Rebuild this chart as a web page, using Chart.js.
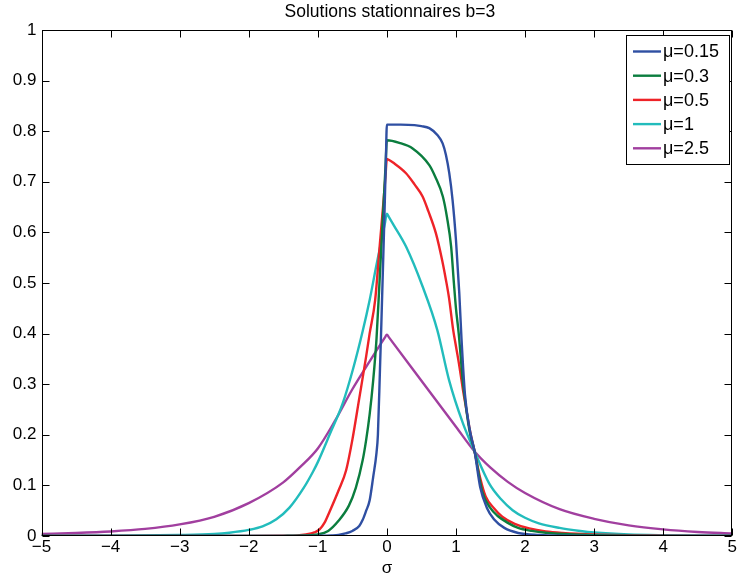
<!DOCTYPE html>
<html>
<head>
<meta charset="utf-8">
<script src="https://cdn.jsdelivr.net/npm/chart.js@4.4.1/dist/chart.umd.min.js"></script>
<style>
  html, body { margin: 0; padding: 0; background: #fff; }
  canvas { display: block; }
</style>
</head>
<body>
<canvas id="c" width="738" height="581"></canvas>
<script>
// ---- Data ----
const chartTitle = 'Solutions stationnaires b=3';
const xAxisLabel = 'σ';
const seriesLabels = ['μ=0.15', 'μ=0.3', 'μ=0.5', 'μ=1', 'μ=2.5'];
const seriesColors = ['#2f4fa2', '#0b7d3e', '#ee2328', '#22bcbc', '#a13f9f'];

const sigmaMu015 = [-5, -2, -1.2, -1, -0.8, -0.7, -0.6, -0.5, -0.4, -0.35, -0.3, -0.25, -0.2, -0.15, -0.13, -0.1, -0.08, -0.04, -0.015, 0, 0.2, 0.4, 0.5, 0.614, 0.734, 0.807, 0.855, 0.903, 0.951, 1.0, 1.048, 1.08, 1.13, 1.2, 1.27, 1.35, 1.45, 1.55, 1.7, 1.9, 2.2, 2.6, 3, 5];
const densMu015  = [0, 0, 0.0001, 0.0003, 0.001, 0.002, 0.005, 0.01, 0.02, 0.032, 0.05, 0.07, 0.115, 0.165, 0.2, 0.33, 0.42, 0.61, 0.74, 0.813, 0.813, 0.812, 0.81, 0.806, 0.792, 0.776, 0.753, 0.717, 0.664, 0.585, 0.48, 0.39, 0.28, 0.21, 0.167, 0.097, 0.055, 0.033, 0.016, 0.006, 0.002, 0.0005, 0.0002, 0];

const sigmaMu03 = [-5, -2, -1.5, -1.2, -1, -0.85, -0.7, -0.55, -0.45, -0.35, -0.3, -0.25, -0.2, -0.15, -0.1, -0.05, -0.02, 0, 0.18, 0.373, 0.614, 0.7, 0.81, 0.87, 0.93, 0.97, 1.0, 1.04, 1.1, 1.15, 1.2, 1.27, 1.38, 1.5, 1.6, 1.75, 1.9, 2.1, 2.3, 2.7, 3.2, 4, 5];
const densMu03  = [0, 0.0001, 0.0003, 0.001, 0.003, 0.01, 0.03, 0.06, 0.095, 0.15, 0.19, 0.24, 0.305, 0.39, 0.52, 0.65, 0.73, 0.782, 0.777, 0.766, 0.733, 0.71, 0.671, 0.63, 0.572, 0.5, 0.45, 0.4, 0.305, 0.25, 0.205, 0.167, 0.088, 0.055, 0.04, 0.026, 0.016, 0.01, 0.0065, 0.003, 0.0012, 0.0003, 0.0001];

const sigmaMu05 = [-5, -2, -1.5, -1.3, -1.17, -1.05, -0.975, -0.9, -0.83, -0.7, -0.59, -0.5, -0.4, -0.3, -0.25, -0.17, -0.1, -0.05, -0.02, 0, 0.02, 0.1, 0.277, 0.4, 0.517, 0.6, 0.71, 0.8, 0.855, 0.9, 0.96, 1.0, 1.05, 1.1, 1.15, 1.2, 1.27, 1.35, 1.43, 1.55, 1.67, 1.85, 2.06, 2.3, 2.54, 3, 4, 5];
const densMu05  = [0, 0.0001, 0.0005, 0.001, 0.003, 0.007, 0.013, 0.027, 0.048, 0.09, 0.13, 0.19, 0.272, 0.355, 0.4, 0.466, 0.58, 0.66, 0.712, 0.745, 0.744, 0.737, 0.717, 0.695, 0.671, 0.642, 0.598, 0.545, 0.506, 0.47, 0.407, 0.375, 0.335, 0.29, 0.25, 0.21, 0.167, 0.115, 0.078, 0.055, 0.038, 0.024, 0.015, 0.009, 0.006, 0.003, 0.0008, 0.0002];

const sigmaMu1 = [-5, -4, -3, -2.5, -2.28, -2, -1.8, -1.6, -1.41, -1.2, -1.07, -1, -0.83, -0.64, -0.49, -0.35, -0.25, -0.156, -0.03, 0, 0.03, 0.1, 0.277, 0.517, 0.73, 0.9, 1.1, 1.27, 1.48, 1.65, 1.82, 2, 2.2, 2.5, 2.8, 3, 3.5, 4, 5];
const densMu1  = [0.0001, 0.0005, 0.002, 0.004, 0.0065, 0.012, 0.019, 0.033, 0.056, 0.096, 0.127, 0.146, 0.2, 0.262, 0.33, 0.405, 0.466, 0.532, 0.617, 0.637, 0.63, 0.614, 0.572, 0.493, 0.407, 0.308, 0.223, 0.167, 0.104, 0.073, 0.051, 0.036, 0.025, 0.016, 0.01, 0.007, 0.003, 0.0015, 0.0004];

const sigmaMu25 = [-5, -4.5, -4, -3.5, -3, -2.5, -2, -1.5, -1.25, -1, -0.75, -0.5, -0.25, -0.03, 0, 0.03, 0.5, 1.0, 1.27, 1.5, 1.75, 2, 2.5, 3, 3.5, 4, 4.5, 5];
const densMu25  = [0.004, 0.006, 0.009, 0.014, 0.023, 0.038, 0.065, 0.106, 0.137, 0.173, 0.228, 0.29, 0.345, 0.392, 0.398, 0.3925, 0.307, 0.216, 0.167, 0.135, 0.107, 0.085, 0.053, 0.034, 0.021, 0.013, 0.008, 0.005];

const xTicks = [-5, -4, -3, -2, -1, 0, 1, 2, 3, 4, 5];
const yTicks = [0, 0.1, 0.2, 0.3, 0.4, 0.5, 0.6, 0.7, 0.8, 0.9, 1];

// ---- Build chart ----
const FONT = '"Liberation Sans", Arial, Helvetica, sans-serif';
const sigmaSets = [sigmaMu015, sigmaMu03, sigmaMu05, sigmaMu1, sigmaMu25];
const densSets = [densMu015, densMu03, densMu05, densMu1, densMu25];

const datasets = seriesLabels.map((label, k) => ({
  label,
  data: sigmaSets[k].map((x, i) => ({ x, y: densSets[k][i] })),
  borderColor: seriesColors[k],
  backgroundColor: seriesColors[k],
  borderWidth: 2.4,
  pointRadius: 0,
  cubicInterpolationMode: 'monotone',
  fill: false
}));

const fmt = v => {
  const r = Math.round(v * 10) / 10;
  return r < 0 ? '\u2212' + Math.abs(r) : String(r);
};

const matlabFrame = {
  id: 'matlabFrame',
  afterDraw(chart) {
    const { ctx, chartArea: a, scales: { x, y } } = chart;
    ctx.save();
    const L = Math.round(a.left) + 0.5, R = Math.round(a.right) - 0.5;
    const T = Math.round(a.top) + 0.5, B = Math.round(a.bottom) - 0.5;
    ctx.strokeStyle = '#000';
    ctx.lineWidth = 1;
    const tl = 7;
    ctx.beginPath();
    xTicks.forEach(v => {
      const px = Math.round(x.getPixelForValue(v)) + 0.5;
      ctx.moveTo(px, B); ctx.lineTo(px, B - tl);
      ctx.moveTo(px, T); ctx.lineTo(px, T + tl);
    });
    yTicks.forEach(v => {
      const py = Math.round(y.getPixelForValue(v)) + 0.5;
      ctx.moveTo(L, py); ctx.lineTo(L + tl, py);
      ctx.moveTo(R, py); ctx.lineTo(R - tl, py);
    });
    ctx.stroke();
    ctx.strokeRect(L, T, R - L, B - T);

    // title
    ctx.fillStyle = '#000';
    ctx.font = '17.5px ' + FONT;
    ctx.textAlign = 'center';
    ctx.textBaseline = 'alphabetic';
    ctx.fillText(chartTitle, (a.left + a.right) / 2 + 3, 17);

    // legend
    const lx = 626.5, ly = 35.5, lw = 103, lh = 129;
    ctx.fillStyle = '#fff';
    ctx.fillRect(lx, ly, lw, lh);
    ctx.strokeStyle = '#000';
    ctx.lineWidth = 1;
    ctx.strokeRect(lx, ly, lw, lh);
    ctx.font = '18px ' + FONT;
    ctx.textAlign = 'left';
    ctx.textBaseline = 'middle';
    chart.data.datasets.forEach((ds, i) => {
      const ry = 51.5 + i * 24.2;
      ctx.strokeStyle = ds.borderColor;
      ctx.lineWidth = 2.4;
      ctx.beginPath();
      ctx.moveTo(633, ry); ctx.lineTo(661, ry);
      ctx.stroke();
      ctx.fillStyle = '#000';
      ctx.fillText(ds.label, 663, ry + 1);
    });
    ctx.restore();
  }
};

new Chart(document.getElementById('c'), {
  type: 'line',
  data: { datasets },
  options: {
    responsive: false,
    animation: false,
    devicePixelRatio: 1,
    layout: { padding: { top: 30, right: 4, left: 0, bottom: 0 } },
    plugins: { legend: { display: false }, title: { display: false }, tooltip: { enabled: false } },
    scales: {
      x: {
        type: 'linear', min: -5, max: 5,
        afterBuildTicks: s => { s.ticks = xTicks.map(v => ({ value: v })); },
        ticks: { callback: v => fmt(v), font: { family: FONT, size: 17 }, color: '#000', padding: 1, maxRotation: 0, autoSkip: false },
        grid: { display: false, drawTicks: false },
        border: { display: false },
        title: { display: true, text: xAxisLabel, font: { family: FONT, size: 17 }, color: '#000', padding: { top: 0, bottom: 2 } },
        afterFit: s => { s.height = 45; }
      },
      y: {
        type: 'linear', min: 0, max: 1,
        afterBuildTicks: s => { s.ticks = yTicks.map(v => ({ value: v })); },
        ticks: { callback: v => fmt(v), font: { family: FONT, size: 17 }, color: '#000', padding: 5, autoSkip: false },
        grid: { display: false, drawTicks: false },
        border: { display: false },
        afterFit: s => { s.width = 41.5; }
      }
    }
  },
  plugins: [matlabFrame]
});
</script>
</body>
</html>
